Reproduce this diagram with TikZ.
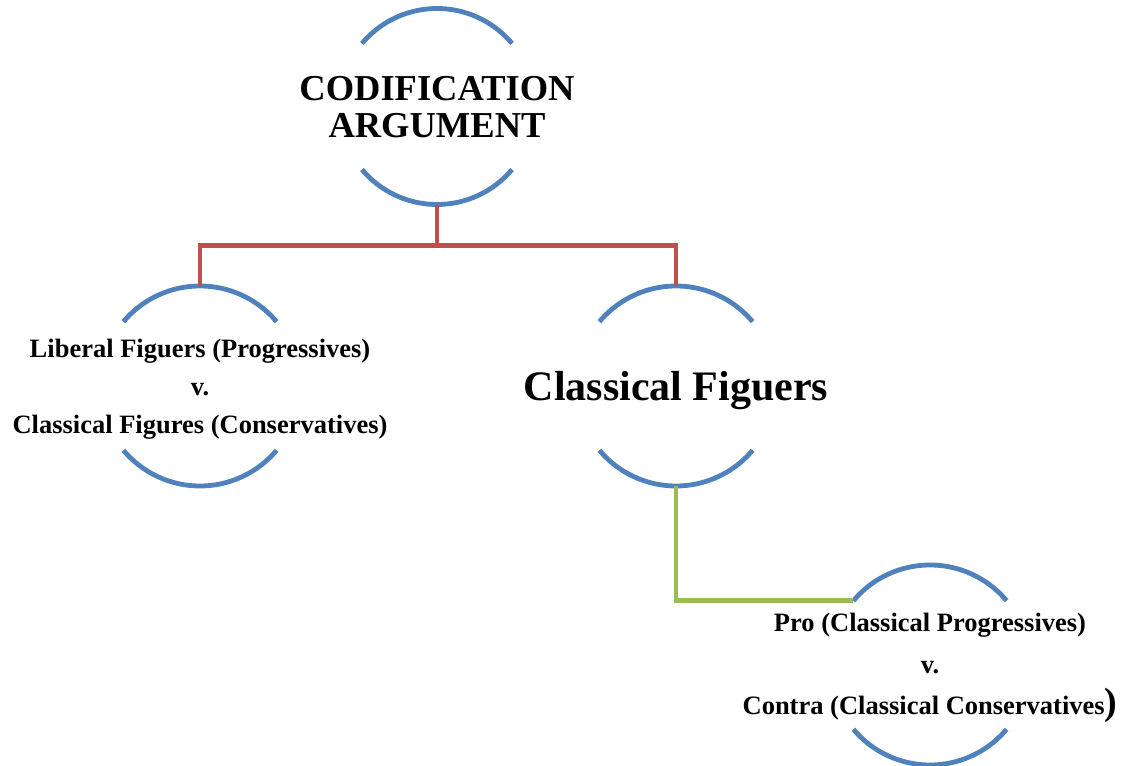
\documentclass[tikz,border=0pt]{standalone}
\usepackage{fontspec}
\setmainfont{Liberation Serif}
\usetikzlibrary{calc}
\definecolor{arcblue}{HTML}{4F81BD}
\definecolor{linkred}{HTML}{C0504D}
\definecolor{linkgreen}{HTML}{9BBB59}
\tikzset{
  ring/.style={circle, minimum size=#1, inner sep=0pt, draw=none},
  arcs/.style={draw=arcblue, line width=4.8pt},
  redlink/.style={draw=linkred, line width=4.8pt},
  greenlink/.style={draw=linkgreen, line width=4.8pt},
  label/.style={align=center, inner sep=0pt, text=black},
}
\newcommand{\ringarcs}[2]{%
  \draw[arcs] ([shift={(40:#2)}]#1.center) arc[start angle=40, end angle=140, radius=#2];
  \draw[arcs] ([shift={(220:#2)}]#1.center) arc[start angle=220, end angle=320, radius=#2];
}
\begin{document}
\begin{tikzpicture}[x=1pt,y=1pt]
\useasboundingbox (0,0) rectangle (1126,765);
% circles
\node[ring=196pt] (A) at (437,658.5) {};
\node[ring=200pt] (B) at (200,379) {};
\node[ring=200pt] (C) at (676,379) {};
\node[ring=200pt] (D) at (930,100) {};
\ringarcs{A}{98}
\ringarcs{B}{100}
\ringarcs{C}{100}
\ringarcs{D}{100}
% texts
\node[label, font=\bfseries\fontsize{36.5}{37}\selectfont] (At) at ([yshift=-1pt]A.center) {CODIFICATION\\ARGUMENT};
\node[label, font=\bfseries\fontsize{26.5}{38}\selectfont] (Bt) at ([yshift=-3.5pt]B.center) {Liberal Figuers (Progressives)\\v.\\Classical Figures (Conservatives)};
\node[label, font=\bfseries\fontsize{42}{44}\selectfont] (Ct) at ([yshift=-5pt]C.center) {Classical Figuers};
\node[label, font=\bfseries\fontsize{26.5}{41.5}\selectfont] (Dt) at ([yshift=-3pt]D.center) {Pro (Classical Progressives)\\v.\\Contra (Classical Conservatives{\fontsize{38}{38}\selectfont)}};
% connectors
\draw[redlink] (A.south) -- ++(0,-40.5) -| (B.north);
\draw[redlink] (A.south) -- ++(0,-40.5) -| (C.north);
\draw[greenlink] (C.south) |- (D.140);
\end{tikzpicture}
\end{document}
